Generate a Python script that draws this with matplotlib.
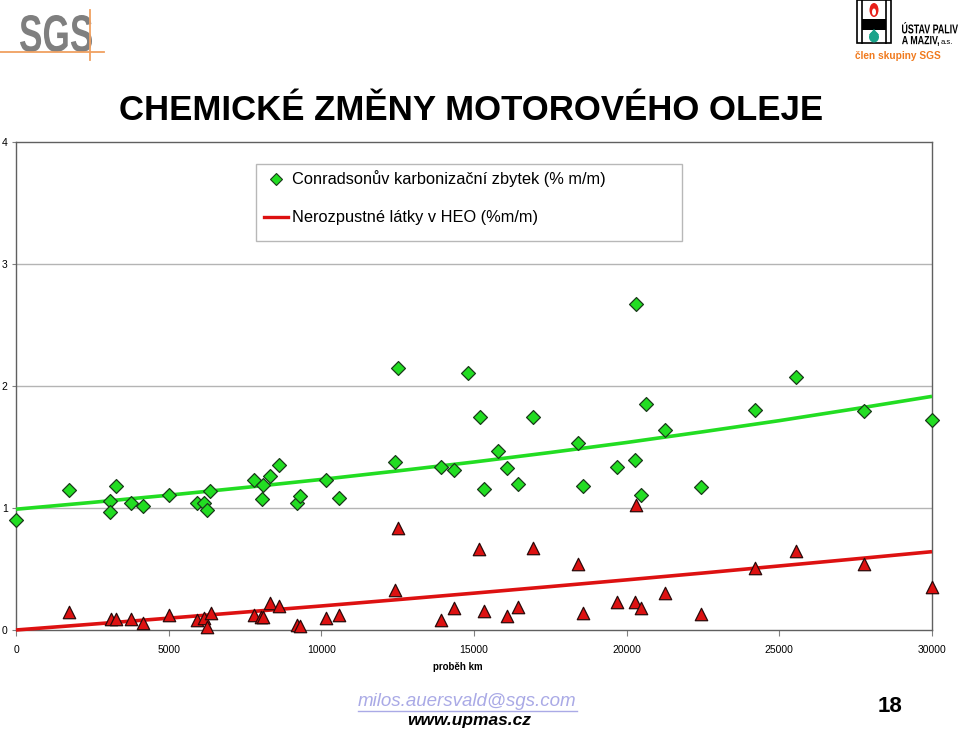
import matplotlib
matplotlib.use("Agg")
import matplotlib.pyplot as plt
from matplotlib.patches import Rectangle, PathPatch, Ellipse, Polygon
from matplotlib.lines import Line2D
from matplotlib.textpath import TextPath
from matplotlib.font_manager import FontProperties
from matplotlib.transforms import Affine2D, IdentityTransform

plt.rcParams['font.family'] = ['Liberation Sans', 'DejaVu Sans']

# ---------------- data ----------------
km_conradson = [0, 1736, 3080, 3080, 3276, 3767, 4160, 5011, 5929, 6158, 6256, 6355,
                7796, 8081, 8058, 8320, 8624, 9204, 9292, 10144, 10570, 12424, 12502,
                13932, 14337, 14817, 15198, 15329, 15798, 16093, 16453, 16921, 18408,
                18560, 19679, 20275, 20318, 20482, 20627, 21267, 22431, 24205, 25559,
                27785, 30000]
conradson = [0.90, 1.15, 1.06, 0.97, 1.18, 1.04, 1.02, 1.11, 1.04, 1.04, 0.98, 1.14,
             1.23, 1.19, 1.07, 1.26, 1.35, 1.04, 1.10, 1.23, 1.08, 1.38, 2.15,
             1.34, 1.31, 2.11, 1.75, 1.155, 1.465, 1.325, 1.20, 1.745, 1.53,
             1.18, 1.335, 1.39, 2.675, 1.11, 1.85, 1.64, 1.17, 1.80, 2.07,
             1.795, 1.72]

km_nerozp = [1736, 3100, 3265, 3767, 4160, 5000, 5918, 6158, 6245, 6376, 7806, 8040,
             8090, 8310, 8624, 9204, 9292, 10144, 10570, 12424, 12502, 13932, 14337,
             15167, 15329, 16093, 16453, 16921, 18408, 18560, 19679, 20275, 20318,
             20482, 21267, 22431, 24205, 25559, 27785, 30000]
nerozp = [0.15, 0.088, 0.093, 0.093, 0.06, 0.123, 0.082, 0.096, 0.027, 0.137, 0.123, 0.104,
          0.104, 0.22, 0.197, 0.04, 0.035, 0.10, 0.123, 0.33, 0.84, 0.082, 0.178,
          0.66, 0.158, 0.115, 0.19, 0.67, 0.545, 0.142, 0.232, 0.232, 1.025,
          0.178, 0.30, 0.134, 0.51, 0.65, 0.545, 0.35]

# trend lines
trend_km = [0, 2500, 5000, 7500, 10000, 12500, 15000, 17500, 20000, 22500, 25000, 27500, 30000]
trend_conradson = [0.99, 1.046, 1.105, 1.168, 1.234, 1.304, 1.377, 1.455, 1.537, 1.625,
                   1.716, 1.814, 1.915]
trend_nerozp = [0.0, 0.048, 0.097, 0.147, 0.197, 0.249, 0.302, 0.356, 0.411, 0.467,
                0.525, 0.583, 0.642]

x_ticks = [0, 5000, 10000, 15000, 20000, 25000, 30000]
y_ticks = [0, 1, 2, 3, 4]

title = "CHEMICKÉ ZMĚNY MOTOROVÉHO OLEJE"
label_conradson = "Conradsonův karbonizační zbytek (% m/m)"
label_nerozp = "Nerozpustné látky v HEO (%m/m)"
x_label = "proběh km"

GREEN = "#22dd22"
RED = "#dd1111"

W, H = 960, 732
fig = plt.figure(figsize=(W / 100, H / 100), dpi=100)
fig.patch.set_facecolor("white")

ax = fig.add_axes([16 / W, (H - 630) / H, 916 / W, 488 / H])
ax.set_xlim(0, 30000)
ax.set_ylim(0, 4)

ax.plot(trend_km, trend_conradson, color=GREEN, lw=2.6, solid_capstyle="butt", zorder=3, clip_on=False)
ax.plot(trend_km, trend_nerozp, color=RED, lw=2.6, solid_capstyle="butt", zorder=3, clip_on=False)

ax.scatter(km_conradson, conradson, marker="D", s=50, facecolor=GREEN,
           edgecolor="#1a3a1a", linewidths=0.9, zorder=4, clip_on=False)
ax.scatter(km_nerozp, nerozp, marker="^", s=80, facecolor=RED,
           edgecolor="#2a0a0a", linewidths=0.9, zorder=4, clip_on=False)

ax.set_xticks(x_ticks)
ax.set_xticklabels([str(t) for t in x_ticks])
ax.set_yticks(y_ticks)
ax.set_yticklabels([str(t) for t in y_ticks])
ax.tick_params(axis="x", length=4, width=0.8, color="#808080", pad=7, labelsize=7.5)
ax.tick_params(axis="y", length=3, width=0.8, color="#808080", pad=3, labelsize=7.5)
for t in [1, 2, 3]:
    ax.axhline(t, color="#b4b4b4", lw=1.0, zorder=1)
for s in ax.spines.values():
    s.set_color("#606060")
    s.set_linewidth(1.0)

# legend (drawn as in the reference)
lx0, lx1 = (256 - 16) / 916, (682 - 16) / 916
ly1, ly0 = (630 - 164) / 488, (630 - 241) / 488
ax.add_patch(Rectangle((lx0, ly0), lx1 - lx0, ly1 - ly0, transform=ax.transAxes,
                       facecolor="white", edgecolor="#b8b8b8", lw=1.0, zorder=5))
r1 = (630 - 179) / 488
r2 = (630 - 217) / 488
ax.add_line(Line2D([(276 - 16) / 916], [r1], marker="D", markersize=6, markerfacecolor=GREEN,
                   markeredgecolor="#1a3a1a", markeredgewidth=0.8, linestyle="none",
                   transform=ax.transAxes, zorder=6))
ax.add_line(Line2D([(264 - 16) / 916, (288 - 16) / 916], [r2, r2], color=RED, lw=2.4,
                   transform=ax.transAxes, zorder=6))
ax.text((292 - 16) / 916, r1, label_conradson, transform=ax.transAxes, fontsize=11.8,
        va="center", ha="left", zorder=6)
ax.text((292 - 16) / 916, r2, label_nerozp, transform=ax.transAxes, fontsize=11.8,
        va="center", ha="left", zorder=6)

# title and labels
fig.text(471 / W, 1 - 110 / H, title, fontsize=25, fontweight="bold", ha="center", va="center")
fig.text(458 / W, 1 - 667 / H, x_label, fontsize=7, fontweight="bold", ha="center", va="center")

# footer
fig.text(467 / W, 1 - 701 / H, "milos.auersvald@sgs.com", fontsize=13.5, style="italic",
         color="#aaaae6", ha="center", va="center")
fig.add_artist(Line2D([358 / W, 577 / W], [1 - 711 / H, 1 - 711 / H], color="#aaaae6", lw=1.0))
fig.text(469 / W, 1 - 721 / H, "www.upmas.cz", fontsize=12.5, style="italic", fontweight="bold",
         color="black", ha="center", va="center")
fig.text(890 / W, 1 - 706 / H, "18", fontsize=16, fontweight="bold", ha="center", va="center")


def fitted_text(txt, x0, x1, ytop, ybot, color, weight="bold"):
    """Draw text squeezed into a pixel box (logo lettering)."""
    fp = FontProperties(family="Liberation Sans", weight=weight)
    tp = TextPath((0, 0), txt, prop=fp, size=100)
    bb = tp.get_extents()
    sx = (x1 - x0) / bb.width
    sy = (ybot - ytop) / bb.height
    tr = Affine2D().translate(-bb.x0, -bb.y0).scale(sx, sy).translate(x0, H - ybot)
    pp = PathPatch(tr.transform_path(tp), facecolor=color, edgecolor="none", lw=0)
    pp.set_transform(IdentityTransform())
    fig.add_artist(pp)


# SGS logo (top left)
fitted_text("SGS", 20, 92, 15, 52, "#7f7f7f")
ORANGE = "#f0a060"
fig.add_artist(Line2D([0, 104 / W], [1 - 52 / H, 1 - 52 / H], color=ORANGE, lw=1.3))
fig.add_artist(Line2D([90 / W, 90 / W], [1 - 10 / H, 1 - 60 / H], color=ORANGE, lw=1.3))


# UPM logo (top right)
def fx(px):
    return px / W


def fy(py):
    return 1 - py / H


fig.add_artist(Rectangle((fx(857), fy(43)), fx(891) - fx(857), fy(0) - fy(43),
                         facecolor="white", edgecolor="black", lw=1.2, transform=fig.transFigure))
fig.add_artist(Line2D([fx(862), fx(862)], [fy(0), fy(43)], color="black", lw=1.2))
fig.add_artist(Line2D([fx(886), fx(886)], [fy(0), fy(43)], color="black", lw=1.2))
fig.add_artist(Rectangle((fx(862), fy(30)), fx(886) - fx(862), fy(19) - fy(30),
                         facecolor="black", edgecolor="none", transform=fig.transFigure))
fig.add_artist(Ellipse((fx(874), fy(10)), 9 / W, 14 / H, facecolor="#e8201a",
                       edgecolor="none", transform=fig.transFigure))
fig.add_artist(Ellipse((fx(874), fy(12)), 4 / W, 7 / H, facecolor="white",
                       edgecolor="none", transform=fig.transFigure))
fig.add_artist(Ellipse((fx(874), fy(37)), 10 / W, 11 / H, facecolor="#1aa38a",
                       edgecolor="none", transform=fig.transFigure))
fig.add_artist(Polygon([(fx(869), fy(35)), (fx(879), fy(35)), (fx(874), fy(29))], closed=True,
                       facecolor="#1aa38a", edgecolor="none", transform=fig.transFigure))
fitted_text("ÚSTAV PALIV", 902, 958, 22, 33.5, "black")
fitted_text("A MAZIV,", 902, 939, 36, 46, "black")
fig.text(fx(941), fy(42), "a.s.", fontsize=5.5, ha="left", va="center")
fig.text(fx(898), fy(56), "člen skupiny SGS", fontsize=7.3, fontweight="bold", color="#f07a1e",
         ha="center", va="center")

fig.savefig("out.png", dpi=100, facecolor="white")
